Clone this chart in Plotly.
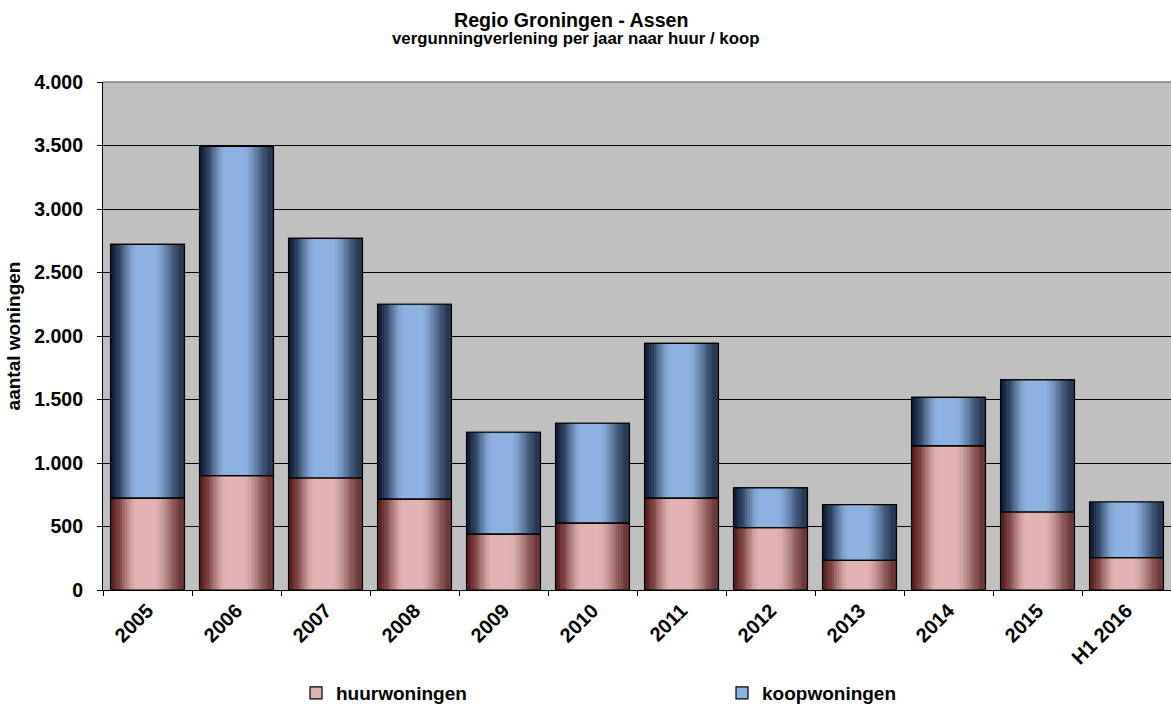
import plotly.graph_objects as go

categories = ["2005", "2006", "2007", "2008", "2009", "2010", "2011", "2012", "2013", "2014", "2015", "H1 2016"]
huurwoningen = [724, 900, 882, 716, 440, 527, 724, 490, 233, 1135, 614, 254]
koopwoningen = [1997, 2592, 1886, 1534, 802, 786, 1218, 314, 440, 382, 1040, 439]
y_tickvals = [0, 500, 1000, 1500, 2000, 2500, 3000, 3500, 4000]
y_ticktext = ["0", "500", "1.000", "1.500", "2.000", "2.500", "3.000", "3.500", "4.000"]

W, H = 1171, 706
BW = 0.83
K = 32
FONT = "Liberation Sans, Arial, sans-serif"


def lerp(a, b, s):
    return tuple(round(a[i] + (b[i] - a[i]) * s) for i in range(3))


def smooth(x):
    x = max(0.0, min(1.0, x))
    return x * x * (3 - 2 * x)


def profile(t, dl, lt, dr):
    if t < 0.36:
        return lerp(dl, lt, smooth(t / 0.36))
    if t <= 0.58:
        return lt
    return lerp(dr, lt, smooth((1 - t) / 0.42))


series = [
    ("huurwoningen", huurwoningen, [0] * len(huurwoningen),
     (92, 30, 30), (226, 179, 179), (105, 50, 50)),
    ("koopwoningen", koopwoningen, huurwoningen,
     (16, 30, 56), (141, 178, 225), (34, 50, 78)),
]

fig = go.Figure()

# legend entries (drawn first, covered by gradient strips)
for name, vals, base, dl, lt, dr in series:
    fig.add_trace(go.Bar(
        x=categories, y=vals, base=base, name=name,
        width=BW, offset=-BW / 2,
        marker=dict(color="rgb(%d,%d,%d)" % lt, line=dict(color="#000000", width=1.2)),
        hoverinfo="skip", showlegend=True,
    ))

# gradient strips
for name, vals, base, dl, lt, dr in series:
    for i in range(K):
        t = (i + 0.5) / K
        c = profile(t, dl, lt, dr)
        fig.add_trace(go.Bar(
            x=categories, y=vals, base=base,
            width=BW / K * 1.15, offset=-BW / 2 + i * BW / K,
            marker=dict(color="rgb(%d,%d,%d)" % c, line=dict(width=0)),
            hoverinfo="skip", showlegend=False,
        ))

# outlines
for name, vals, base, dl, lt, dr in series:
    fig.add_trace(go.Bar(
        x=categories, y=vals, base=base,
        width=BW, offset=-BW / 2,
        marker=dict(color="rgba(0,0,0,0)", line=dict(color="#000000", width=1.2)),
        hoverinfo="skip", showlegend=False,
    ))

fig.update_layout(
    width=W, height=H,
    barmode="overlay",
    paper_bgcolor="white",
    plot_bgcolor="#c0c0c0",
    margin=dict(l=103, r=0, t=82, b=116),
    font=dict(family=FONT, color="#000000"),
    showlegend=True,
    legend=dict(
        orientation="h", xref="container", yref="container",
        x=296 / W, y=(H - 693) / H, xanchor="left", yanchor="middle",
        entrywidth=381, entrywidthmode="pixels",
        font=dict(size=19, family=FONT, weight="bold"),
        bgcolor="rgba(0,0,0,0)", traceorder="normal",
    ),
    annotations=[
        dict(text="<b>Regio Groningen - Assen</b>", xref="paper", yref="paper",
             x=(571 - 103) / 1068, y=1, yshift=62, xanchor="center", yanchor="middle",
             showarrow=False, font=dict(size=19.6, family=FONT)),
        dict(text="<b>vergunningverlening per jaar naar huur / koop</b>", xref="paper", yref="paper",
             x=(575 - 103) / 1068, y=1, yshift=44, xanchor="center", yanchor="middle",
             showarrow=False, font=dict(size=16.8, family=FONT)),
    ],
    shapes=[
        dict(type="line", xref="paper", yref="paper", x0=0, x1=1, y0=1, y1=1,
             line=dict(color="#808080", width=1.5), layer="between"),
    ],
)

fig.update_xaxes(
    type="category", range=[-0.5, 11.5],
    tickangle=-45, tickfont=dict(size=20, family=FONT, weight="bold"),
    ticks="outside", tickson="boundaries", ticklen=5, tickcolor="#000000",
    showline=True, linecolor="#000000", linewidth=1.2,
    showgrid=False, zeroline=False,
)
fig.update_yaxes(
    range=[0, 4000], tickvals=y_tickvals, ticktext=y_ticktext,
    tickfont=dict(size=19.5, family=FONT, weight="bold"),
    ticks="outside", ticklen=5, tickcolor="#000000", ticklabelstandoff=10,
    showline=True, linecolor="#000000", linewidth=1.2,
    showgrid=True, gridcolor="#000000", gridwidth=1.2, zeroline=False,
    title=dict(text="<b>aantal woningen</b>", font=dict(size=19, family=FONT), standoff=8),
)

fig.write_html("out.html")
